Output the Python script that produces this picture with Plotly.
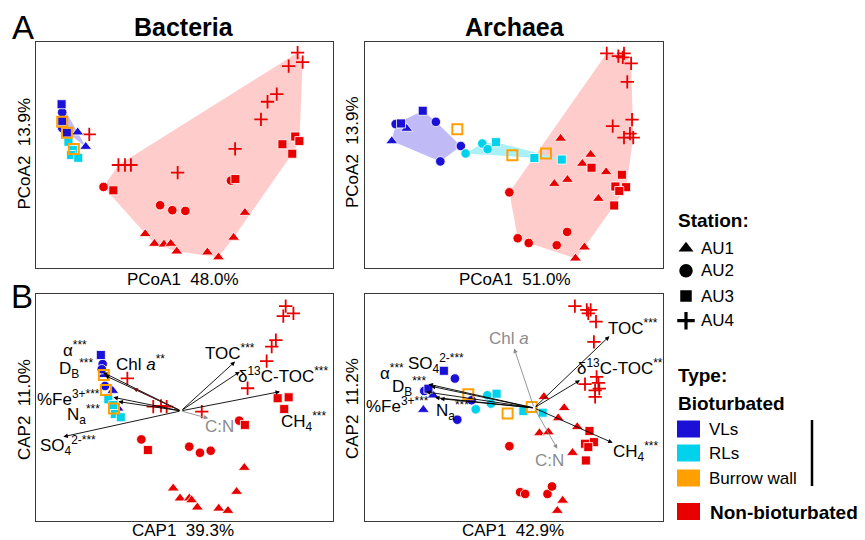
import plotly.graph_objects as go

FONT = "Liberation Sans, Arial, sans-serif"
COL = {"VL": "#1a10d6", "RL": "#00d2ec", "BW": "#ffa000", "NB": "#e80000"}
HULL_COL = {"VL": "#c0bbf6", "RL": "#aaf0f8", "NB": "#ffcccc"}
SYM = {1: "triangle-up", 2: "circle", 3: "square", 4: "cross-thin"}
SIZE = {1: 10.5, 2: 9.5, 3: 9, 4: 9.5}

# ---------------- Bacteria PCoA (panel A left) ----------------
bac_pcoa_x = [88.0, 85.0, 89.7, 81.0, 77.9, 75.7, 67.0, 47.7, 27.8, 30.0, 32.0, 18.0,
              87.2, 88.6, 82.9, 86.2, 67.1, 26.1,
              22.8, 65.6, 41.8, 45.9, 50.3,
              70.3, 36.8, 39.9, 43.1, 45.4, 47.4, 57.7, 61.4, 66.5,
              8.7, 8.9, 8.9, 8.9, 10.5, 14.1, 16.8,
              11.0, 12.5, 11.9, 14.3,
              8.9, 10.5, 12.8]
bac_pcoa_y = [95.4, 89.5, 91.2, 77.1, 73.7, 65.9, 52.8, 42.3, 45.7, 45.7, 45.7, 59.3,
              58.3, 56.3, 54.9, 50.7, 39.5, 34.5,
              36.0, 38.8, 27.9, 25.7, 25.4,
              24.6, 15.2, 10.9, 10.6, 10.9, 7.5, 7.1, 4.9, 13.6,
              72.6, 69.0, 65.2, 62.1, 60.0, 60.2, 53.8,
              56.0, 52.3, 50.1, 48.9,
              64.9, 60.0, 52.8]
bac_pcoa_stn = [4] * 12 + [3] * 6 + [2] * 5 + [1] * 9 + [3, 2, 3, 2, 3, 1, 1] + [3] * 4 + [3] * 3
bac_pcoa_type = ["NB"] * 32 + ["VL"] * 7 + ["RL"] * 4 + ["BW"] * 3
bac_pcoa_hull_out = [11]

# ---------------- Archaea PCoA (panel A right) ----------------
arc_pcoa_x = [81.2, 85.1, 87.0, 86.6, 89.4, 88.1, 89.7, 83.2, 89.0, 87.0, 90.1,
              65.7, 75.8, 73.0, 81.0, 68.0, 63.6, 78.4, 73.7, 70.7,
              76.1, 86.3, 84.1, 87.7, 85.4, 83.7,
              48.5, 51.3, 55.0, 64.4, 67.9,
              19.4, 10.3, 12.1, 14.0, 9.0, 23.8, 32.2, 25.3,
              33.8, 39.4, 41.2, 44.0, 56.9, 66.1,
              31.0, 49.5, 60.8]
arc_pcoa_y = [95.1, 93.9, 95.1, 93.3, 90.7, 82.5, 65.8, 62.9, 59.6, 57.8, 57.8,
              57.4, 50.3, 46.3, 42.6, 39.2, 37.4, 30.8, 9.3, 4.4,
              44.5, 41.4, 36.2, 35.9, 34.2, 27.8,
              33.6, 13.3, 11.2, 10.2, 16.1,
              69.7, 63.8, 64.1, 61.8, 56.3, 64.8, 54.1, 47.3,
              50.8, 55.2, 52.7, 55.8, 48.8, 48.1,
              61.5, 50.0, 50.8]
arc_pcoa_stn = [4] * 11 + [1] * 9 + [3] * 6 + [2] * 5 + [3, 2, 3, 1, 1, 2, 2, 2] + [2, 2, 2, 3, 3, 3] + [3] * 3
arc_pcoa_type = ["NB"] * 31 + ["VL"] * 8 + ["RL"] * 6 + ["BW"] * 3
arc_pcoa_hull_out = []

# ---------------- Bacteria CAP (panel B left) ----------------
bac_cap_x = [84.0, 83.2, 86.6, 80.7, 79.3, 77.6, 71.2, 55.8, 39.5, 42.1, 44.0, 30.8,
             81.3, 85.0, 83.5, 70.3, 37.7,
             68.4, 35.5, 51.6, 55.2, 58.8,
             70.1, 67.5, 46.2, 48.5, 51.6, 52.4, 54.3, 61.5, 64.6,
             21.9, 22.5, 22.2, 22.9, 23.3, 25.9, 27.7,
             24.4, 26.1, 26.6, 28.6,
             22.9, 23.6, 26.3]
bac_cap_y = [94.8, 90.4, 91.6, 79.8, 76.9, 70.5, 58.5, 48.2, 50.4, 50.7, 50.4, 62.9,
             54.1, 54.5, 49.3, 42.3, 31.2,
             44.2, 35.9, 32.7, 30.0, 30.9,
             23.4, 12.8, 14.3, 9.9, 9.9, 9.1, 5.9, 5.4, 4.4,
             73.2, 69.2, 66.9, 64.4, 59.5, 57.4, 49.6,
             53.6, 51.1, 47.1, 45.7,
             64.4, 57.7, 49.6]
bac_cap_stn = [4] * 12 + [3] * 5 + [2] * 5 + [1] * 9 + [3, 2, 2, 1, 2, 1, 1] + [3] * 4 + [3] * 3
bac_cap_type = ["NB"] * 31 + ["VL"] * 7 + ["RL"] * 4 + ["BW"] * 3

# ---------------- Archaea CAP (panel B right) ----------------
arc_cap_x = [70.5, 74.5, 75.0, 75.8, 77.6, 76.9, 73.9, 77.8, 77.3, 78.7, 77.3, 78.4,
             60.1, 66.9, 64.9, 71.3, 58.6, 61.6, 69.7, 66.4, 64.6,
             75.4, 76.9, 73.9, 75.0, 74.2,
             48.5, 52.1, 53.8, 61.3, 62.8,
             26.5, 30.2, 21.3, 19.9, 22.9, 19.6, 35.8, 31.0,
             41.1, 44.2, 42.3, 37.2, 53.2, 59.7,
             34.7, 47.9, 56.0]
arc_cap_y = [94.8, 93.1, 91.6, 93.1, 87.9, 79.0, 60.3, 63.5, 57.6, 58.3, 54.7, 60.9,
             54.7, 49.8, 45.3, 41.4, 38.7, 39.1, 30.0, 8.9, 4.4,
             39.6, 34.7, 34.0, 32.5, 26.6,
             32.9, 12.6, 11.8, 11.8, 15.1,
             66.2, 62.8, 58.3, 57.3, 55.4, 49.0, 53.2, 44.6,
             55.4, 56.1, 51.7, 49.2, 48.4, 47.7,
             55.8, 47.3, 50.2]
arc_cap_stn = [4] * 12 + [1] * 9 + [3] * 5 + [2] * 5 + [3, 2, 3, 2, 1, 1, 2, 2] + [2, 3, 2, 2, 3, 3] + [3] * 3
arc_cap_type = ["NB"] * 31 + ["VL"] * 8 + ["RL"] * 6 + ["BW"] * 3

# ---------------- Environmental vectors (CAP) ----------------
env_labels = ["α<sup>***</sup>", "D<sub>B</sub><sup>***</sup>", "Chl <i>a</i><sup>**</sup>",
              "%Fe<sup>3+***</sup>", "N<sub>a</sub><sup>***</sup>", "SO<sub>4</sub><sup>2-***</sup>",
              "C:N", "TOC<sup>***</sup>", "δ<sup>13</sup>C-TOC<sup>***</sup>", "CH<sub>4</sub><sup>***</sup>"]
bac_env_origin = (48.8, 48.5)
bac_env_x = [22.6, 23.2, 32.8, 26.1, 27.8, 9.3, 58.0, 67.0, 68.6, 82.1]
bac_env_y = [65.5, 64.2, 58.5, 54.5, 52.6, 37.1, 45.2, 70.3, 65.8, 57.0]
bac_env_lx = [13.2, 13.5, 35.1, 11.0, 16.0, 11.0, 61.9, 65.3, 83.2, 90.0]
bac_env_ly = [76.0, 67.2, 69.5, 54.0, 46.7, 33.4, 41.5, 74.7, 64.4, 43.7]
bac_env_col = ["#000000", "#000000", "#701818", "#000000", "#000000", "#000000",
               "#8c8c8c", "#000000", "#000000", "#000000"]

arc_env_labels = ["α<sup>***</sup>", "D<sub>B</sub><sup>***</sup>", "Chl <i>a</i>",
                  "%Fe<sup>3+***</sup>", "N<sub>a</sub><sup>***</sup>", "SO<sub>4</sub><sup>2-***</sup>",
                  "C:N", "TOC<sup>***</sup>", "δ<sup>13</sup>C-TOC<sup>**</sup>", "CH<sub>4</sub><sup>***</sup>"]
arc_env_origin = (56.8, 49.8)
arc_env_x = [21.3, 20.5, 50.1, 23.5, 25.2, 22.1, 64.6, 82.1, 72.2, 83.2]
arc_env_y = [60.3, 56.9, 76.1, 54.4, 53.9, 59.4, 31.8, 81.5, 62.0, 34.4]
arc_env_lx = [9.0, 14.9, 48.5, 11.0, 29.5, 23.9, 61.9, 90.1, 85.7, 90.8]
arc_env_ly = [65.7, 59.4, 80.5, 51.0, 48.5, 69.4, 26.6, 85.7, 67.7, 30.7]
arc_env_col = ["#000000", "#000000", "#8c8c8c", "#000000", "#000000", "#000000",
               "#8c8c8c", "#000000", "#000000", "#000000"]

# ---------------- Text ----------------
titles = ["Bacteria", "Archaea"]
x_titles = ["PCoA1\u00a0 48.0%", "PCoA1\u00a0 51.0%", "CAP1\u00a0 39.3%", "CAP1\u00a0 42.9%"]
y_titles = ["PCoA2\u00a0 13.9%", "PCoA2\u00a0 13.9%", "CAP2\u00a0 11.0%", "CAP2\u00a0 11.2%"]
station_names = ["AU1", "AU2", "AU3", "AU4"]
type_names = ["VLs", "RLs", "Burrow wall"]

W, H = 865, 540


def px(x):
    return x / W


def py(y):
    return 1 - y / H


def hull(points):
    pts = sorted(set(points))
    if len(pts) < 3:
        return pts

    def cross(o, a, b):
        return (a[0] - o[0]) * (b[1] - o[1]) - (a[1] - o[1]) * (b[0] - o[0])

    lower, upper = [], []
    for p in pts:
        while len(lower) >= 2 and cross(lower[-2], lower[-1], p) <= 0:
            lower.pop()
        lower.append(p)
    for p in reversed(pts):
        while len(upper) >= 2 and cross(upper[-2], upper[-1], p) <= 0:
            upper.pop()
        upper.append(p)
    return lower[:-1] + upper[:-1]


def note(x, y, text, size, bold=False, color="black", xanchor="center", angle=0):
    return dict(x=px(x), y=py(y), xref="paper", yref="paper",
                text=("<b>" + text + "</b>") if bold else text, showarrow=False,
                xanchor=xanchor, yanchor="middle", textangle=angle,
                font=dict(family=FONT, size=size, color=color))


fig = go.Figure()

panels = [
    ("x", "y", bac_pcoa_x, bac_pcoa_y, bac_pcoa_stn, bac_pcoa_type, bac_pcoa_hull_out, True),
    ("x2", "y2", arc_pcoa_x, arc_pcoa_y, arc_pcoa_stn, arc_pcoa_type, arc_pcoa_hull_out, True),
    ("x3", "y3", bac_cap_x, bac_cap_y, bac_cap_stn, bac_cap_type, [], False),
    ("x4", "y4", arc_cap_x, arc_cap_y, arc_cap_stn, arc_cap_type, [], False),
]

for xa, ya, X, Y, S, T, hout, do_hull in panels:
    if do_hull:
        for t in ["NB", "VL", "RL"]:
            pts = [(X[i], Y[i]) for i in range(len(X)) if T[i] == t and i not in hout]
            hp = hull(pts)
            hp.append(hp[0])
            fig.add_trace(go.Scatter(x=[p[0] for p in hp], y=[p[1] for p in hp], xaxis=xa, yaxis=ya,
                                     mode="lines", fill="toself", fillcolor=HULL_COL[t],
                                     line=dict(width=0, color=HULL_COL[t]), hoverinfo="skip",
                                     showlegend=False))
    for t in ["NB", "VL", "RL", "BW"]:
        for s in [1, 2, 3, 4]:
            idx = [i for i in range(len(X)) if T[i] == t and S[i] == s]
            if not idx:
                continue
            if t == "BW":
                marker = dict(symbol="square-open", size=10, color=COL[t], line=dict(width=2, color=COL[t]))
            elif s == 4:
                marker = dict(symbol="cross-thin", size=SIZE[4], color=COL[t], line=dict(width=1.8, color=COL[t]))
            else:
                marker = dict(symbol=SYM[s], size=SIZE[s], color=COL[t], line=dict(width=0.8, color="white"))
            fig.add_trace(go.Scatter(x=[X[i] for i in idx], y=[Y[i] for i in idx], xaxis=xa, yaxis=ya,
                                     mode="markers", marker=marker, showlegend=False))

annotations = []
for xa, ya, org, ex, ey, lx, ly, cols, labs in [
    ("x3", "y3", bac_env_origin, bac_env_x, bac_env_y, bac_env_lx, bac_env_ly, bac_env_col, env_labels),
    ("x4", "y4", arc_env_origin, arc_env_x, arc_env_y, arc_env_lx, arc_env_ly, arc_env_col, arc_env_labels),
]:
    for i in range(len(ex)):
        annotations.append(dict(x=ex[i], y=ey[i], ax=org[0], ay=org[1], xref=xa, yref=ya,
                                axref=xa, ayref=ya, text="", showarrow=True, arrowhead=2,
                                arrowsize=1, arrowwidth=0.9, arrowcolor=cols[i], standoff=0))
        tcol = "#8c8c8c" if cols[i] == "#8c8c8c" else "#000000"
        annotations.append(dict(x=lx[i], y=ly[i], xref=xa, yref=ya, text=labs[i], showarrow=False,
                                font=dict(family=FONT, size=17, color=tcol), xanchor="center",
                                yanchor="middle"))

# titles and panel letters
annotations.append(note(184, 27, titles[0], 25, bold=True))
annotations.append(note(514.5, 27, titles[1], 25, bold=True))
annotations.append(note(22.5, 28, "A", 33))
annotations.append(note(22, 296, "B", 33))

# axis titles
xt_pos = [(183, 279), (515, 279), (183, 530), (513, 530)]
yt_pos = [(24, 153.5), (352.5, 152.5), (24, 410), (352, 409)]
for i in range(4):
    annotations.append(note(xt_pos[i][0], xt_pos[i][1], x_titles[i], 17))
    annotations.append(note(yt_pos[i][0], yt_pos[i][1], y_titles[i], 17, angle=-90))

# legend
annotations.append(note(676, 220, "Station:", 19, bold=True, xanchor="left"))
st_y = [248.3, 270.7, 296, 320.7]
for i, nm in enumerate(station_names):
    annotations.append(note(699, st_y[i], nm, 17, xanchor="left"))
annotations.append(note(676, 375, "Type:", 19, bold=True, xanchor="left"))
annotations.append(note(676, 403, "Bioturbated", 19, bold=True, xanchor="left"))
ty_y = [429, 453, 478]
ty_col = [COL["VL"], COL["RL"], COL["BW"]]
shapes = []
for i, nm in enumerate(type_names):
    annotations.append(note(707, ty_y[i], nm, 17, xanchor="left"))
    shapes.append(dict(type="rect", xref="paper", yref="paper", x0=px(677), x1=px(700),
                       y0=py(ty_y[i] - 8.5), y1=py(ty_y[i] + 8.5), fillcolor=ty_col[i], line=dict(width=0)))
annotations.append(note(708, 512, "Non-bioturbated", 19, bold=True, xanchor="left"))
shapes.append(dict(type="rect", xref="paper", yref="paper", x0=px(677), x1=px(700),
                   y0=py(511.5 - 8.5), y1=py(511.5 + 8.5), fillcolor=COL["NB"], line=dict(width=0)))
shapes.append(dict(type="line", xref="paper", yref="paper", x0=px(812), x1=px(812),
                   y0=py(420), y1=py(486), line=dict(width=2.5, color="black")))

# legend station markers on a hidden overlay axis
leg_x = [px(686)] * 4
leg_y = [py(v) for v in st_y]
for i in range(4):
    s = i + 1
    if s == 4:
        mk = dict(symbol="cross-thin", size=12.5, color="black", line=dict(width=3.2, color="black"))
    elif s == 1:
        mk = dict(symbol="triangle-up", size=13, color="black")
    elif s == 2:
        mk = dict(symbol="circle", size=13.5, color="black")
    else:
        mk = dict(symbol="square", size=11.5, color="black")
    fig.add_trace(go.Scatter(x=[leg_x[i]], y=[leg_y[i]], xaxis="x5", yaxis="y5", mode="markers",
                             marker=mk, showlegend=False, hoverinfo="skip"))

ax_common = dict(range=[0, 100], showgrid=False, zeroline=False, showticklabels=False, ticks="",
                 showline=True, linecolor="#3a3a3a", linewidth=1, mirror=True, fixedrange=True)
xd1 = [px(35.7), px(333.3)]
xd2 = [px(365), px(662.7)]
ydA = [py(268.3), py(42.3)]
ydB = [py(520.7), py(294.3)]

fig.update_layout(
    width=W, height=H, margin=dict(l=0, r=0, t=0, b=0),
    paper_bgcolor="white", plot_bgcolor="rgba(0,0,0,0)",
    showlegend=False,
    xaxis=dict(domain=xd1, anchor="y", **ax_common),
    yaxis=dict(domain=ydA, anchor="x", **ax_common),
    xaxis2=dict(domain=xd2, anchor="y2", **ax_common),
    yaxis2=dict(domain=ydA, anchor="x2", **ax_common),
    xaxis3=dict(domain=xd1, anchor="y3", **ax_common),
    yaxis3=dict(domain=ydB, anchor="x3", **ax_common),
    xaxis4=dict(domain=xd2, anchor="y4", **ax_common),
    yaxis4=dict(domain=ydB, anchor="x4", **ax_common),
    xaxis5=dict(domain=[0, 1], range=[0, 1], visible=False, anchor="y5", fixedrange=True),
    yaxis5=dict(domain=[0, 1], range=[0, 1], visible=False, anchor="x5", fixedrange=True),
    annotations=annotations,
    shapes=shapes,
    font=dict(family=FONT),
)

fig.write_html("out.html")
